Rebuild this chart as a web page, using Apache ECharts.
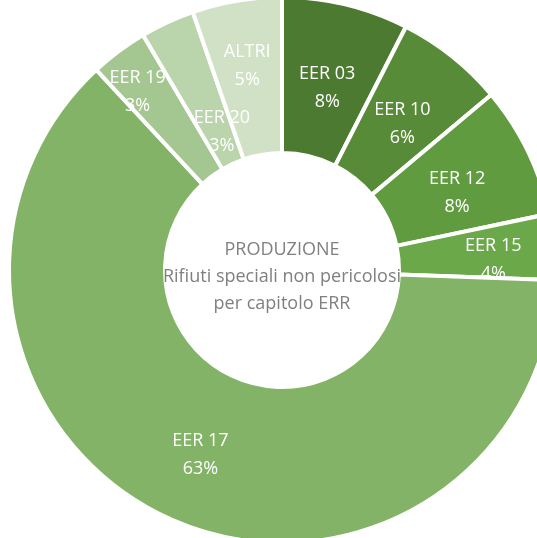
<!DOCTYPE html>
<html>
<head>
<meta charset="utf-8">
<script src="https://cdn.jsdelivr.net/npm/echarts@6/dist/echarts.min.js"></script>
<style>html,body{margin:0;padding:0;background:#fff;}#c{width:537px;height:538px;}</style>
</head>
<body>
<div id="c"></div>
<script>
const categories = ['EER 03', 'EER 10', 'EER 12', 'EER 15', 'EER 17', 'EER 19', 'EER 20', 'ALTRI'];
const shares = [7.5, 6.4, 7.8, 3.9, 62.5, 3.4, 3.2, 5.3];
const centerLines = ['PRODUZIONE', 'Rifiuti speciali non pericolosi', 'per capitolo ERR'];

const colors = ['#4b7a30', '#578b37', '#609b3f', '#6ba849', '#82b366', '#a4c690', '#bad4ab', '#d0e1c6'];
const labelNudge = { 0: [-1, 10], 1: [-3, 9], 2: [-3, 9], 3: [14, 7], 4: [1, 5], 5: [-26, -19], 6: [23, 42], 7: [-2, -9] };

const chart = echarts.init(document.getElementById('c'), null, { renderer: 'canvas' });
chart.setOption({
  animation: false,
  backgroundColor: '#ffffff',
  graphic: [{
    type: 'text',
    z: 100,
    x: 282,
    y: 277,
    style: {
      text: centerLines.join('\n'),
      align: 'center',
      verticalAlign: 'middle',
      fill: '#808080',
      font: '18px "Open Sans"',
      lineHeight: 27
    }
  }],
  series: [{
    type: 'pie',
    center: [282, 270],
    radius: [117, 273],
    startAngle: 90,
    clockwise: true,
    avoidLabelOverlap: false,
    itemStyle: { borderColor: '#ffffff', borderWidth: 4 },
    label: {
      show: true,
      position: 'inside',
      color: '#ffffff',
      fontFamily: 'Open Sans',
      fontSize: 18,
      lineHeight: 28,
      formatter: p => p.name + '\n' + Math.round(p.percent) + '%'
    },
    labelLine: { show: false },
    labelLayout: p => {
      const n = labelNudge[p.dataIndex];
      return n ? { dx: n[0], dy: n[1] } : {};
    },
    emphasis: { disabled: true },
    data: categories.map((c, i) => ({ name: c, value: shares[i], itemStyle: { color: colors[i] } }))
  }]
});
</script>
</body>
</html>
